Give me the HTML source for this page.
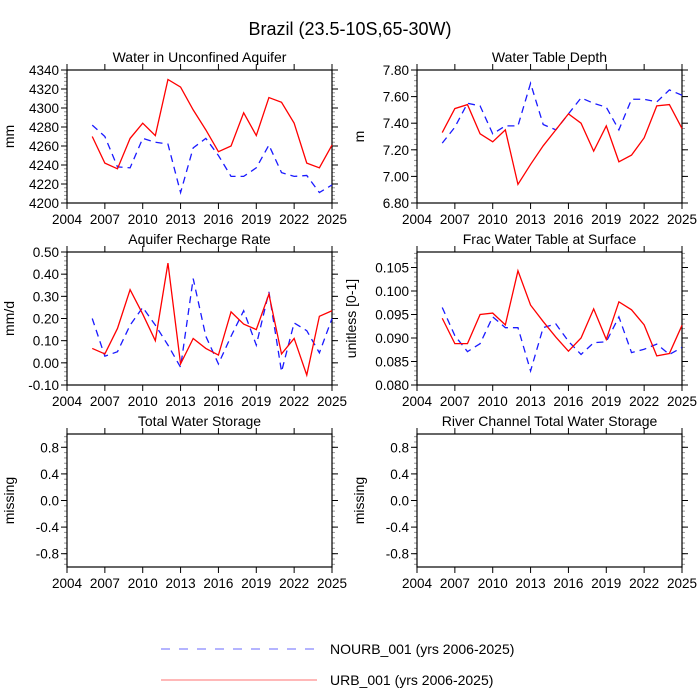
<!DOCTYPE html>
<html><head><meta charset="utf-8"><style>
body{margin:0;background:#fff}
svg{display:block;font-family:"Liberation Sans",Arial,sans-serif}
</style></head><body>
<svg id="chart" width="700" height="700" viewBox="0 0 700 700">
<text x="350" y="35" font-size="18" text-anchor="middle">Brazil (23.5-10S,65-30W)</text>
<g id="panels"></g>
<g>
<line x1="161" y1="649" x2="317" y2="649" stroke="#6a6aff" stroke-width="1" stroke-dasharray="9,9"/>
<text x="330" y="654" font-size="14">NOURB_001 (yrs 2006-2025)</text>
<line x1="161" y1="680" x2="317" y2="680" stroke="#ff7070" stroke-width="1"/>
<text x="330" y="685" font-size="14">URB_001 (yrs 2006-2025)</text>
</g>
</svg>
<script>
const years = [2006,2007,2008,2009,2010,2011,2012,2013,2014,2015,2016,2017,2018,2019,2020,2021,2022,2023,2024,2025];
const xTicks = [2004,2007,2010,2013,2016,2019,2022,2025];
const aquiferUrb = [4270,4242,4236,4268,4284,4271,4330,4322,4298,4277,4254,4260,4295,4271,4311,4306,4284,4242,4237,4261];
const aquiferNourb = [4282,4270,4238,4237,4268,4264,4262,4211,4258,4268,4250,4228,4228,4237,4261,4232,4228,4229,4211,4219];
const aquiferTicks = [4200,4220,4240,4260,4280,4300,4320,4340];
const wtdUrb = [7.33,7.51,7.54,7.32,7.26,7.35,6.94,7.09,7.23,7.35,7.47,7.40,7.19,7.38,7.11,7.16,7.29,7.53,7.54,7.36];
const wtdNourb = [7.25,7.37,7.55,7.53,7.32,7.38,7.38,7.70,7.39,7.35,7.47,7.59,7.55,7.52,7.35,7.58,7.58,7.56,7.65,7.61];
const wtdTicks = [6.8,7.0,7.2,7.4,7.6,7.8];
const rechUrb = [0.065,0.04,0.155,0.33,0.22,0.10,0.45,-0.005,0.11,0.065,0.035,0.23,0.175,0.15,0.31,0.04,0.11,-0.055,0.21,0.235];
const rechNourb = [0.20,0.03,0.05,0.17,0.25,0.17,0.08,-0.02,0.38,0.12,-0.005,0.12,0.235,0.08,0.32,-0.04,0.18,0.145,0.045,0.20];
const rechTicks = [-0.1,0,0.1,0.2,0.3,0.4,0.5];
const fracUrb = [0.0942,0.0888,0.0888,0.0950,0.0953,0.0928,0.1043,0.0970,0.0935,0.0902,0.0872,0.0900,0.0962,0.0897,0.0977,0.0960,0.0928,0.0862,0.0867,0.0927];
const fracNourb = [0.0965,0.0905,0.0871,0.0888,0.0945,0.0922,0.0922,0.0830,0.0922,0.0930,0.0893,0.0865,0.0890,0.0892,0.0945,0.0869,0.0876,0.0887,0.0865,0.0880];
const fracTicks = [0.080,0.085,0.090,0.095,0.100,0.105];
const missingTicks = [-0.8,-0.4,0,0.4,0.8];

const NS='http://www.w3.org/2000/svg';
const root=document.getElementById('panels');
function mk(tag,attrs,parent){const e=document.createElementNS(NS,tag);for(const k in attrs)e.setAttribute(k,attrs[k]);(parent||root).appendChild(e);return e;}

function panel(o){
  const g=mk('g',{});
  
  
  const L=o.x, R=o.x+265, T=o.y, B=o.y+133;
  const sx=v=>L+(v-2004)/(2025-2004)*(R-L);
  const sy=v=>B-(v-o.ymin)/(o.ymax-o.ymin)*(B-T);
  const t=mk('text',{x:(L+R)/2,y:T-8,'font-size':14,'text-anchor':'middle'},g);
  t.textContent=o.title;
  
  
  const yl=mk('text',{x:0,y:0,'font-size':14,'text-anchor':'middle',transform:`translate(${o.ylx},${(T+B)/2}) rotate(-90)`},g);
  yl.textContent=o.ylabel;
  
  
  // minor ticks
  const step=o.yt[1]-o.yt[0];
  for(let v=o.yt[0]-step;v<=o.ymax+1e-9;v+=step/5){
    if(v<o.ymin-1e-9)continue;
    const y=sy(v);
    mk('line',{x1:L-3,y1:y,x2:L,y2:y,stroke:'#999','stroke-width':1},g);
    mk('line',{x1:R,y1:y,x2:R+3,y2:y,stroke:'#999','stroke-width':1},g);
  }
  o.yt.forEach(v=>{
    const y=sy(v);
    mk('line',{x1:L-6,y1:y,x2:L,y2:y,stroke:'#000'},g);
    mk('line',{x1:R,y1:y,x2:R+6,y2:y,stroke:'#000'},g);
    const tx=mk('text',{x:L-8,y:y+5,'font-size':13.5,'text-anchor':'end'},g);
    tx.textContent=o.fmt(v);
    
    
  });
  xTicks.forEach(v=>{
    const x=sx(v);
    mk('line',{x1:x,y1:B,x2:x,y2:B+6,stroke:'#000'},g);
    mk('line',{x1:x,y1:T-6,x2:x,y2:T,stroke:'#000'},g);
    const tx=mk('text',{x:x,y:B+21,'font-size':13.5,'text-anchor':'middle'},g);
    tx.textContent=v;
    
    
  });
  const box=mk('rect',{x:L,y:T,width:R-L,height:B-T,fill:'none',stroke:'#000','stroke-width':1.2},g);
  
  
  if(o.nourb){
    const p=mk('polyline',{points:years.map((yr,i)=>sx(yr)+','+sy(o.nourb[i])).join(' '),fill:'none',stroke:'#1a1aff','stroke-width':1.3,'stroke-dasharray':'7,5'},g);
    
    
  }
  if(o.urb){
    const p=mk('polyline',{points:years.map((yr,i)=>sx(yr)+','+sy(o.urb[i])).join(' '),fill:'none',stroke:'#ff0000','stroke-width':1.3},g);
    
    
  }
}
const f2=v=>v.toFixed(2), f3=v=>v.toFixed(3), f1=v=>v.toFixed(1), f0=v=>v.toFixed(0);
panel({name:'aquifer',x:67,y:70,title:'Water in Unconfined Aquifer',ylabel:'mm',ylx:14,ymin:4200,ymax:4340,yt:aquiferTicks,fmt:f0,urb:aquiferUrb,nourb:aquiferNourb});
panel({name:'water-table-depth',x:417,y:70,title:'Water Table Depth',ylabel:'m',ylx:364,ymin:6.8,ymax:7.8,yt:wtdTicks,fmt:f2,urb:wtdUrb,nourb:wtdNourb});
panel({name:'recharge',x:67,y:252,title:'Aquifer Recharge Rate',ylabel:'mm/d',ylx:14,ymin:-0.1,ymax:0.5,yt:rechTicks,fmt:f2,urb:rechUrb,nourb:rechNourb});
panel({name:'frac-water-table',x:417,y:252,title:'Frac Water Table at Surface',ylabel:'unitless [0-1]',ylx:356,ymin:0.080,ymax:0.1083,yt:fracTicks,fmt:f3,urb:fracUrb,nourb:fracNourb});
panel({name:'total-water-storage',x:67,y:434,title:'Total Water Storage',ylabel:'missing',ylx:14,ymin:-1,ymax:1,yt:missingTicks,fmt:f1});
panel({name:'river-channel-storage',x:417,y:434,title:'River Channel Total Water Storage',ylabel:'missing',ylx:364,ymin:-1,ymax:1,yt:missingTicks,fmt:f1});
</script>
</body></html>
